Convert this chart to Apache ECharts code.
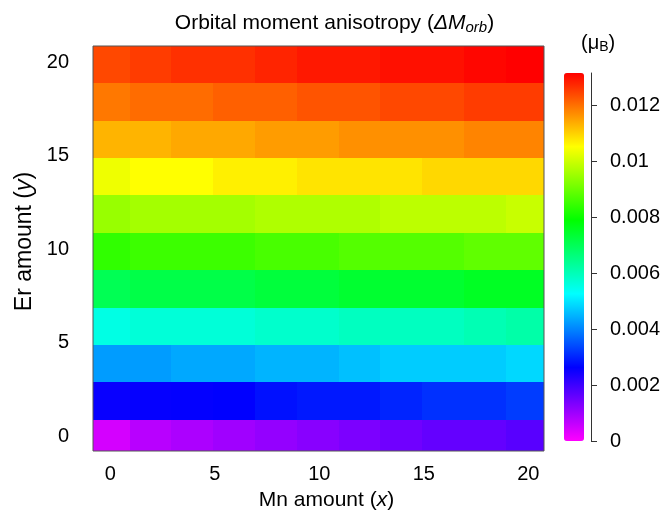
<!DOCTYPE html>
<html>
<head>
<meta charset="utf-8">
<script src="https://cdn.jsdelivr.net/npm/echarts@6/dist/echarts.min.js"></script>
<style>
  html, body { margin: 0; padding: 0; background: #fff; }
  #chart { width: 669px; height: 523px; }
</style>
</head>
<body>
<div id="chart"></div>
<script>
// Mn amount (x) and Er amount (y) grid positions
const xValues = [0, 2, 4, 6, 8, 10, 12, 14, 16, 18, 20]
const yValues = [0, 2, 4, 6, 8, 10, 12, 14, 16, 18, 20]

// Delta M_orb (muB), one row per Er amount, left to right along Mn amount
const row0 = [0.00044, 0.00073, 0.00086, 0.00098, 0.0011, 0.00123, 0.00135, 0.00147, 0.0016, 0.0016, 0.00172]
const row2 = [0.00255, 0.00258, 0.0026, 0.00263, 0.0028, 0.00288, 0.00288, 0.003, 0.00313, 0.00313, 0.00325]
const row4 = [0.00424, 0.00424, 0.00436, 0.00436, 0.00449, 0.00449, 0.00461, 0.00473, 0.00473, 0.00473, 0.00486]
const row6 = [0.00554, 0.00566, 0.00566, 0.00566, 0.00579, 0.00579, 0.00591, 0.00591, 0.00591, 0.00603, 0.00616]
const row8 = [0.00702, 0.00715, 0.00715, 0.00715, 0.00727, 0.00727, 0.0074, 0.0074, 0.0074, 0.00752, 0.00752]
const row10 = [0.00839, 0.00851, 0.00851, 0.00851, 0.00863, 0.00863, 0.00876, 0.00876, 0.00876, 0.00888, 0.00888]
const row12 = [0.00946, 0.00958, 0.00958, 0.00958, 0.0097, 0.0097, 0.0097, 0.00983, 0.00983, 0.00983, 0.00995]
const row14 = [0.01035, 0.01052, 0.01052, 0.01067, 0.01067, 0.0108, 0.0108, 0.0108, 0.01092, 0.01092, 0.01092]
const row16 = [0.01129, 0.01129, 0.01142, 0.01142, 0.01154, 0.01154, 0.01166, 0.01166, 0.01166, 0.01179, 0.01179]
const row18 = [0.01191, 0.01204, 0.01204, 0.01216, 0.01216, 0.01228, 0.01228, 0.01241, 0.01241, 0.01253, 0.01253]
const row20 = [0.01241, 0.01253, 0.01266, 0.01266, 0.01278, 0.0129, 0.0129, 0.01299, 0.01299, 0.01309, 0.01315]
const rows = [row0, row2, row4, row6, row8, row10, row12, row14, row16, row18, row20]

const axisTicks = [0, 5, 10, 15, 20]
const colorTicks = [0, 0.002, 0.004, 0.006, 0.008, 0.01, 0.012]
const colorMax = 0.01315

// rainbow, magenta at zero up to red at the top
const palette = ["#ff00ff", "#0000ff", "#00ffff", "#00ff00", "#ffff00", "#ff0000"]

const FONT = "'Liberation Sans', Arial, Helvetica, sans-serif"

const cells = []
rows.forEach((row, j) => {
  row.forEach((v, i) => cells.push([xValues[i], yValues[j], v]))
})

const txt = (size, extra) => ({ fontFamily: FONT, fontSize: size, fontWeight: "normal", color: "#000", ...extra })

const chart = echarts.init(document.getElementById("chart"), null, { renderer: "canvas" })

const option = {
  animation: false,
  backgroundColor: "#fff",
  textStyle: { fontFamily: FONT, color: "#000" },
  title: [
    {
      left: "center",
      top: 7,
      text: "{a|Orbital moment anisotropy (}{i|ΔM}{s|orb}{a|)}",
      textStyle: {
        fontWeight: "normal",
        rich: {
          a: txt(21),
          i: txt(21, { fontStyle: "italic" }),
          s: txt(15, { fontStyle: "italic", verticalAlign: "bottom", padding: [8, 0, 0, 0] }),
        },
      },
    },
    {
      left: 576,
      top: 28,
      text: "{a|(μ}{s|B}{a|)}",
      textStyle: {
        fontWeight: "normal",
        rich: {
          a: txt(20),
          s: txt(14, { verticalAlign: "bottom", padding: [7, 0, 0, 0] }),
        },
      },
    },
  ],
  grid: [
    { left: 93, top: 46, width: 451, height: 405, show: true, borderColor: "#555", borderWidth: 1, backgroundColor: "transparent", z: 10 },
    { left: 564, top: 73, width: 20, height: 368 },
  ],
  xAxis: [
    {
      type: "value",
      gridIndex: 0,
      min: -0.83,
      max: 20.75,
      name: "{a|Mn amount (}{i|x}{a|)}",
      nameLocation: "middle",
      nameGap: 39,
      nameTextStyle: {
        padding: [0, 0, 0, 16],
        rich: { a: txt(21), i: txt(21, { fontStyle: "italic" }) },
      },
      axisLine: { show: false },
      splitLine: { show: false },
      axisTick: { show: true, length: 7, lineStyle: { color: "#555" }, customValues: axisTicks },
      axisLabel: { fontSize: 20, color: "#000", margin: 13, fontFamily: FONT, customValues: axisTicks },
    },
    { type: "value", gridIndex: 1, min: 0, max: 1, show: false },
  ],
  yAxis: [
    {
      type: "value",
      gridIndex: 0,
      min: -0.8,
      max: 20.86,
      name: "{a|Er amount (}{i|y}{a|)}",
      nameLocation: "middle",
      nameGap: 56,
      nameRotate: 90,
      nameTextStyle: {
        padding: [0, 0, 0, 14],
        rich: { a: txt(23), i: txt(23, { fontStyle: "italic" }) },
      },
      axisLine: { show: false },
      splitLine: { show: false },
      axisTick: { show: true, length: 7, lineStyle: { color: "#555" }, customValues: axisTicks },
      axisLabel: { fontSize: 20, color: "#000", margin: 24, fontFamily: FONT, customValues: axisTicks },
    },
    {
      type: "value",
      gridIndex: 1,
      position: "right",
      offset: 7,
      min: 0,
      max: colorMax,
      axisLine: { show: true, onZero: false, lineStyle: { color: "#333", width: 1 } },
      splitLine: { show: false },
      axisTick: { show: true, inside: false, length: 6, lineStyle: { color: "#333", width: 1 }, customValues: colorTicks },
      axisLabel: { fontSize: 20, color: "#000", margin: 19, fontFamily: FONT, customValues: colorTicks },
    },
  ],
  visualMap: {
    type: "continuous",
    min: 0,
    max: colorMax,
    dimension: 2,
    seriesIndex: 0,
    calculable: false,
    hoverLink: false,
    realtime: false,
    orient: "vertical",
    left: 564,
    top: 73,
    padding: 0,
    itemWidth: 20,
    itemHeight: 368,
    showLabel: false,
    text: null,
    inRange: { color: palette },
  },
  series: [
    {
      type: "custom",
      xAxisIndex: 0,
      yAxisIndex: 0,
      data: cells,
      silent: true,
      renderItem: (params, api) => {
        const x = api.value(0) - 0.08
        const y = api.value(1) - 0.13
        const p0 = api.coord([x - 1, y + 1])
        const p1 = api.coord([x + 1, y - 1])
        const cs = params.coordSys
        const rect = echarts.graphic.clipRectByRect(
          {
            x: Math.round(p0[0]),
            y: Math.round(p0[1]),
            width: Math.round(p1[0]) - Math.round(p0[0]),
            height: Math.round(p1[1]) - Math.round(p0[1]),
          },
          { x: cs.x, y: cs.y, width: cs.width, height: cs.height }
        )
        return rect && { type: "rect", shape: rect, style: { fill: api.visual("color") } }
      },
    },
  ],
}

chart.setOption(option)
</script>
</body>
</html>
